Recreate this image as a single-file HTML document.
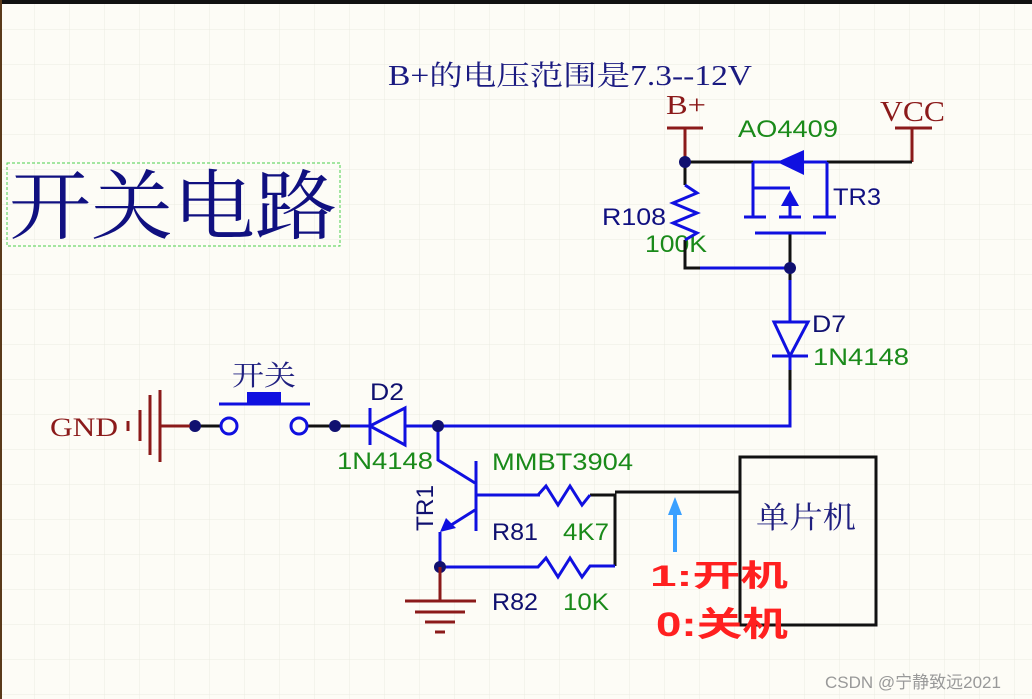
<!DOCTYPE html>
<html><head><meta charset="utf-8"><style>
html,body{margin:0;padding:0;background:#fdfcf6;}
svg{display:block}
.s{font-family:"Liberation Serif","Noto Serif CJK SC",serif}
.a{font-family:"Liberation Sans","DejaVu Sans",sans-serif}
</style></head><body>
<svg width="1032" height="699" viewBox="0 0 1032 699" xmlns="http://www.w3.org/2000/svg">
<defs>
<pattern id="g" width="35" height="35" patternUnits="userSpaceOnUse" x="0" y="-5">
<path d="M35 0V35M0 35H35" stroke="#ecebe2" stroke-width="1" fill="none"/>
</pattern>
</defs>
<rect width="1032" height="699" fill="#fdfcf6"/>
<rect width="1032" height="699" fill="url(#g)"/>
<rect x="0" y="0" width="1032" height="4" fill="#111"/>
<rect x="0" y="0" width="2" height="699" fill="#5a3a1a"/>

<text x="388" y="85" class="s" font-size="28" fill="#1a1a80" textLength="364" lengthAdjust="spacingAndGlyphs">B+的电压范围是7.3--12V</text>
<rect x="7" y="163" width="333" height="83" fill="none" stroke="#4cd04c" stroke-width="1" stroke-dasharray="3,2"/>
<text x="9" y="233" class="s" font-size="76" fill="#101080" textLength="328" lengthAdjust="spacingAndGlyphs">开关电路</text>

<g stroke="#8b1a1a" stroke-width="3" fill="none">
<path d="M667 128H703M685 128V162"/>
<path d="M895 128H932M912 128V162"/>
</g>
<text x="666" y="114" class="s" font-size="27" fill="#8b1a1a" textLength="40" lengthAdjust="spacingAndGlyphs">B+</text>
<text x="880" y="121" class="s" font-size="29" fill="#8b1a1a" textLength="65" lengthAdjust="spacingAndGlyphs">VCC</text>
<text x="738" y="137" class="a" font-size="24" fill="#1a8a1a" textLength="100" lengthAdjust="spacingAndGlyphs">AO4409</text>
<text x="833" y="205" class="a" font-size="24" fill="#101080" textLength="48" lengthAdjust="spacingAndGlyphs">TR3</text>
<text x="602" y="225" class="a" font-size="24" fill="#101080" textLength="64" lengthAdjust="spacingAndGlyphs">R108</text>
<text x="645" y="252" class="a" font-size="24" fill="#1a8a1a" textLength="62" lengthAdjust="spacingAndGlyphs">100K</text>

<g stroke="#111" stroke-width="3" fill="none">
<path d="M685 162H753M827 162H912"/>
<path d="M685 162V185M685 240V268H700"/>
<path d="M790 233V280"/>
<path d="M790 370V390"/>
<path d="M160 426H220M308 426H350"/>
<path d="M590 495H615V566M615 492H740"/>
</g>
<rect x="740" y="457" width="136" height="168" fill="none" stroke="#111" stroke-width="3"/>
<text x="756" y="528" class="s" font-size="30" fill="#202080" textLength="100" lengthAdjust="spacingAndGlyphs">单片机</text>

<g stroke="#1010e0" stroke-width="3" fill="none">
<path d="M753 162H827"/>
<path d="M753 162V217M827 162V217M753 188H790M790 217V200"/>
<path d="M744 217H766M779 217H801M813 217H836M755 233H826"/>
<path d="M685 185L697 193L673 203L697 213L673 223L697 233L685 240"/>
<path d="M700 268H790"/>
<path d="M790 280V322M790 356V370M790 390V426H438"/>
<path d="M772 356H808"/>
<path d="M350 426H370M405 426H438"/>
<path d="M370 408V445"/>
<path d="M438 426V460L475 483M476 461V531M476 495H540M538 495L546 486L558 505L570 486L582 505L590 495"/>
<path d="M475 510L448 527M440 532V567H538L546 558L558 577L570 558L582 577L590 566H615"/>
<path d="M219 404H310"/>
</g>
<polygon points="777,162 804,150 804,175" fill="#1010e0"/>
<polygon points="790,190 781,206 799,206" fill="#1010e0"/>
<polygon points="774,322 808,322 790,356" fill="none" stroke="#1010e0" stroke-width="3"/>
<polygon points="370,426 405,408 405,445" fill="none" stroke="#1010e0" stroke-width="3"/>
<polygon points="440,532 446,518 456,528" fill="#1010e0"/>
<rect x="247" y="392" width="34" height="12" fill="#1010e0"/>
<circle cx="229" cy="426" r="8" fill="#fdfcf6" stroke="#1010e0" stroke-width="3"/>
<circle cx="299" cy="426" r="8" fill="#fdfcf6" stroke="#1010e0" stroke-width="3"/>

<g fill="#101070">
<circle cx="685" cy="162" r="6"/><circle cx="790" cy="268" r="6"/>
<circle cx="195" cy="426" r="6"/><circle cx="335" cy="426" r="6"/>
<circle cx="438" cy="426" r="6"/><circle cx="440" cy="567" r="6"/>
</g>

<g stroke="#8b1a1a" stroke-width="3" fill="none">
<path d="M128 421V431M140 410V441M150 395V455M160 390V462M160 426H190"/>
<path d="M440 567V601M405 601H476M415 612H465M425 622H455M435 632H445"/>
</g>
<text x="50" y="436" class="s" font-size="26" fill="#8b1a1a" textLength="68" lengthAdjust="spacingAndGlyphs">GND</text>
<text x="232" y="385" class="s" font-size="28" fill="#202080" textLength="64" lengthAdjust="spacingAndGlyphs">开关</text>
<text x="370" y="400" class="a" font-size="24" fill="#101070" textLength="34" lengthAdjust="spacingAndGlyphs">D2</text>
<text x="337" y="469" class="a" font-size="24" fill="#1a8a1a" textLength="96" lengthAdjust="spacingAndGlyphs">1N4148</text>
<text x="812" y="332" class="a" font-size="24" fill="#101070" textLength="34" lengthAdjust="spacingAndGlyphs">D7</text>
<text x="813" y="365" class="a" font-size="24" fill="#1a8a1a" textLength="96" lengthAdjust="spacingAndGlyphs">1N4148</text>
<text x="492" y="470" class="a" font-size="24" fill="#1a8a1a" textLength="141" lengthAdjust="spacingAndGlyphs">MMBT3904</text>
<text transform="translate(433,531) rotate(-90)" class="a" font-size="24" fill="#101070" textLength="46" lengthAdjust="spacingAndGlyphs">TR1</text>
<text x="492" y="540" class="a" font-size="24" fill="#101070" textLength="46" lengthAdjust="spacingAndGlyphs">R81</text>
<text x="563" y="540" class="a" font-size="24" fill="#1a8a1a" textLength="46" lengthAdjust="spacingAndGlyphs">4K7</text>
<text x="492" y="610" class="a" font-size="24" fill="#101070" textLength="46" lengthAdjust="spacingAndGlyphs">R82</text>
<text x="563" y="610" class="a" font-size="24" fill="#1a8a1a" textLength="46" lengthAdjust="spacingAndGlyphs">10K</text>

<path d="M675 552V510" stroke="#3aa0ff" stroke-width="4"/>
<polygon points="675,497 668,515 682,515" fill="#3aa0ff"/>
<text x="650" y="586" font-family="Liberation Sans,Noto Sans CJK SC,sans-serif" font-size="30" font-weight="bold" fill="#ff2020" textLength="138" lengthAdjust="spacingAndGlyphs">1:开机</text>
<text x="656" y="636" font-family="Liberation Sans,Noto Sans CJK SC,sans-serif" font-size="34" font-weight="bold" fill="#ff2020" textLength="132" lengthAdjust="spacingAndGlyphs">0:关机</text>

<text x="825" y="688" font-family="Liberation Sans,Noto Sans CJK SC,sans-serif" font-size="17" fill="#999">CSDN @宁静致远2021</text>
</svg>
</body></html>
